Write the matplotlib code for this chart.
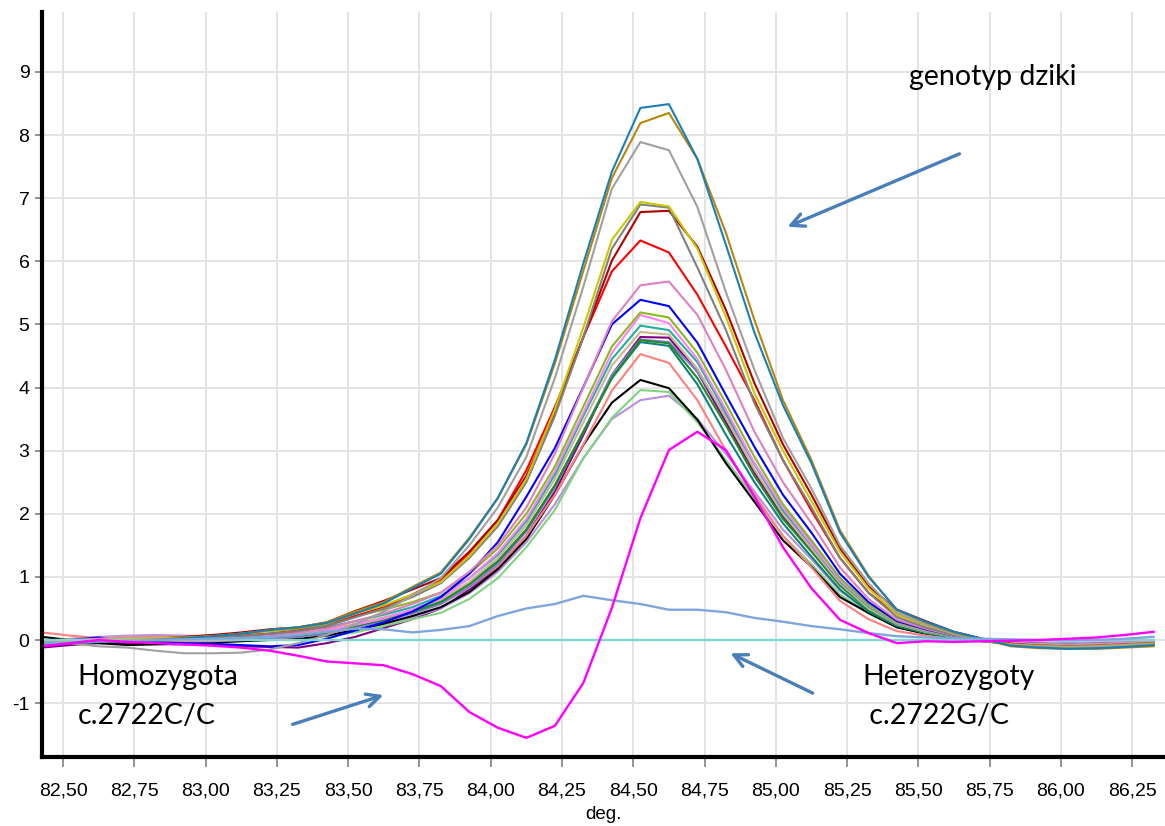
import numpy as np
import matplotlib.pyplot as plt

# temperatura (co 0.1 stopnia)
temps = np.round(82.425 + 0.1 * np.arange(40), 3)

# krzywe roznicowe topnienia - kolejne probki
c_teal = [-0.08, -0.05, -0.03, -0.02, 0.00, 0.03, 0.06, 0.10, 0.16, 0.20, 0.27, 0.42, 0.58, 0.82, 1.05, 1.60, 2.25, 3.12, 4.44, 5.97,
          7.42, 8.43, 8.49, 7.62, 6.26, 4.87, 3.72, 2.80, 1.70, 1.00, 0.48, 0.29, 0.13, 0.02, -0.09, -0.12, -0.14, -0.13, -0.11, -0.08]
c_brown = [-0.06, -0.05, -0.03, -0.01, 0.01, 0.03, 0.06, 0.10, 0.16, 0.20, 0.28, 0.45, 0.60, 0.84, 1.07, 1.62, 2.25, 3.10, 4.38, 5.85,
           7.32, 8.19, 8.35, 7.62, 6.45, 5.07, 3.80, 2.85, 1.74, 1.02, 0.47, 0.28, 0.12, 0.01, -0.10, -0.13, -0.14, -0.14, -0.12, -0.10]
c_gray = [-0.02, -0.05, -0.10, -0.12, -0.17, -0.21, -0.21, -0.20, -0.15, -0.05, 0.08, 0.25, 0.45, 0.70, 0.98, 1.50, 2.10, 2.90, 4.15, 5.60,
          7.15, 7.89, 7.76, 6.86, 5.51, 4.28, 3.20, 2.40, 1.50, 0.90, 0.43, 0.25, 0.10, 0.00, -0.08, -0.11, -0.12, -0.11, -0.09, -0.07]
c_yellow = [-0.03, -0.02, 0.00, 0.02, 0.03, 0.04, 0.06, 0.10, 0.15, 0.20, 0.27, 0.42, 0.55, 0.72, 0.92, 1.33, 1.85, 2.55, 3.65, 4.95,
            6.34, 6.94, 6.87, 6.20, 5.12, 3.91, 3.00, 2.20, 1.40, 0.82, 0.40, 0.24, 0.10, 0.00, -0.07, -0.10, -0.11, -0.10, -0.08, -0.06]
c_gray2 = [-0.04, -0.03, -0.02, -0.01, 0.00, 0.01, 0.03, 0.06, 0.10, 0.14, 0.22, 0.36, 0.50, 0.68, 0.90, 1.30, 1.80, 2.50, 3.55, 4.80,
           6.20, 6.90, 6.85, 5.90, 4.91, 3.75, 2.85, 2.10, 1.30, 0.75, 0.36, 0.20, 0.08, -0.01, -0.07, -0.09, -0.10, -0.09, -0.07, -0.05]
c_darkred = [-0.02, -0.03, -0.02, 0.00, 0.02, 0.05, 0.08, 0.12, 0.17, 0.20, 0.28, 0.46, 0.62, 0.80, 0.98, 1.40, 1.90, 2.60, 3.60, 4.80,
             6.01, 6.78, 6.80, 6.23, 5.23, 4.07, 3.10, 2.30, 1.45, 0.85, 0.48, 0.30, 0.13, 0.02, -0.08, -0.11, -0.12, -0.12, -0.10, -0.08]
c_red = [-0.05, -0.04, -0.03, -0.02, 0.00, 0.02, 0.04, 0.07, 0.10, 0.15, 0.22, 0.38, 0.52, 0.72, 0.95, 1.38, 1.90, 2.69, 3.69, 4.80,
         5.84, 6.33, 6.14, 5.47, 4.65, 3.80, 2.85, 2.05, 1.30, 0.75, 0.40, 0.24, 0.10, 0.00, -0.06, -0.09, -0.10, -0.09, -0.07, -0.05]
c_pink = [-0.02, 0.00, 0.02, 0.04, 0.05, 0.06, 0.07, 0.08, 0.08, 0.12, 0.18, 0.30, 0.42, 0.57, 0.75, 1.08, 1.50, 2.10, 2.95, 4.00,
          5.05, 5.62, 5.68, 5.15, 4.28, 3.30, 2.50, 1.85, 1.15, 0.65, 0.32, 0.18, 0.07, -0.01, -0.06, -0.08, -0.09, -0.08, -0.06, -0.04]
c_blue = [-0.05, 0.00, 0.04, -0.03, -0.04, -0.05, -0.06, -0.08, -0.10, -0.08, 0.02, 0.15, 0.28, 0.45, 0.68, 1.05, 1.55, 2.27, 3.04, 4.01,
          5.00, 5.39, 5.29, 4.71, 3.88, 3.06, 2.30, 1.70, 1.05, 0.60, 0.30, 0.17, 0.07, 0.00, -0.06, -0.09, -0.10, -0.09, -0.07, -0.05]
c_olive = [-0.03, -0.02, -0.01, 0.01, 0.03, 0.05, 0.07, 0.10, 0.14, 0.18, 0.25, 0.38, 0.48, 0.60, 0.75, 1.05, 1.45, 2.00, 2.75, 3.70,
           4.65, 5.19, 5.11, 4.55, 3.75, 2.90, 2.15, 1.58, 0.98, 0.56, 0.28, 0.16, 0.06, -0.01, -0.06, -0.08, -0.09, -0.08, -0.06, -0.04]
c_violet = [-0.05, -0.03, -0.01, 0.00, 0.01, 0.02, 0.02, 0.03, 0.05, 0.08, 0.14, 0.24, 0.34, 0.48, 0.66, 0.98, 1.38, 1.92, 2.68, 3.60,
            4.55, 5.15, 5.02, 4.45, 3.65, 2.80, 2.10, 1.52, 0.95, 0.55, 0.27, 0.15, 0.06, -0.01, -0.05, -0.07, -0.08, -0.07, -0.05, -0.03]
c_teal2 = [-0.06, -0.04, -0.02, 0.00, 0.02, 0.04, 0.05, 0.07, 0.10, 0.14, 0.20, 0.30, 0.40, 0.52, 0.70, 0.98, 1.35, 1.88, 2.62, 3.55,
           4.45, 4.98, 4.91, 4.40, 3.60, 2.78, 2.05, 1.50, 0.93, 0.53, 0.26, 0.14, 0.05, -0.02, -0.06, -0.08, -0.09, -0.08, -0.07, -0.05]
c_tan = [-0.01, 0.01, 0.03, 0.05, 0.05, 0.06, 0.07, 0.08, 0.08, 0.10, 0.16, 0.26, 0.36, 0.48, 0.64, 0.92, 1.30, 1.82, 2.55, 3.45,
         4.35, 4.88, 4.84, 4.30, 3.52, 2.70, 2.00, 1.45, 0.90, 0.50, 0.25, 0.13, 0.05, -0.01, -0.05, -0.07, -0.08, -0.07, -0.05, -0.03]
c_purple = [-0.12, -0.08, -0.05, -0.05, -0.06, -0.07, -0.08, -0.10, -0.11, -0.12, -0.05, 0.05, 0.19, 0.33, 0.50, 0.80, 1.15, 1.65, 2.35, 3.25,
            4.20, 4.80, 4.79, 4.25, 3.45, 2.65, 1.95, 1.42, 0.88, 0.50, 0.25, 0.13, 0.05, -0.01, -0.05, -0.07, -0.08, -0.07, -0.06, -0.04]
c_green = [-0.02, -0.03, -0.02, -0.01, 0.00, 0.02, 0.03, 0.04, 0.05, 0.07, 0.12, 0.22, 0.32, 0.44, 0.60, 0.88, 1.24, 1.75, 2.45, 3.30,
           4.15, 4.75, 4.70, 4.15, 3.40, 2.60, 1.92, 1.40, 0.86, 0.48, 0.24, 0.12, 0.04, -0.02, -0.06, -0.08, -0.09, -0.08, -0.06, -0.04]
c_darkteal = [-0.08, -0.04, -0.03, -0.02, -0.01, 0.00, 0.01, 0.03, 0.05, 0.08, 0.14, 0.24, 0.34, 0.46, 0.62, 0.90, 1.25, 1.75, 2.45, 3.30,
              4.15, 4.72, 4.66, 4.05, 3.25, 2.50, 1.85, 1.32, 0.80, 0.45, 0.22, 0.11, 0.04, -0.02, -0.06, -0.08, -0.09, -0.09, -0.07, -0.05]
c_slate = [-0.04, -0.03, -0.02, -0.01, 0.00, 0.01, 0.02, 0.02, 0.03, 0.05, 0.10, 0.20, 0.30, 0.42, 0.57, 0.84, 1.20, 1.72, 2.42, 3.30,
           4.20, 4.76, 4.72, 4.25, 3.55, 2.80, 2.10, 1.55, 0.98, 0.56, 0.28, 0.15, 0.06, 0.00, -0.04, -0.06, -0.07, -0.06, -0.05, -0.03]
c_salmon = [0.12, 0.07, 0.03, 0.00, -0.02, -0.03, -0.02, 0.00, 0.02, 0.05, 0.10, 0.20, 0.30, 0.42, 0.57, 0.83, 1.17, 1.65, 2.30, 3.10,
            3.95, 4.53, 4.39, 3.80, 3.00, 2.30, 1.65, 1.15, 0.62, 0.33, 0.14, 0.07, 0.02, -0.02, -0.05, -0.06, -0.07, -0.06, -0.05, -0.03]
c_black = [0.05, 0.00, -0.05, -0.08, -0.07, -0.06, -0.04, -0.02, 0.00, 0.02, 0.07, 0.16, 0.26, 0.38, 0.52, 0.76, 1.12, 1.60, 2.30, 3.09,
           3.76, 4.12, 3.99, 3.49, 2.80, 2.19, 1.58, 1.16, 0.68, 0.43, 0.20, 0.10, 0.03, -0.01, -0.04, -0.06, -0.07, -0.06, -0.05, -0.03]
c_lightgreen = [-0.05, -0.04, -0.03, -0.02, -0.02, -0.02, -0.02, -0.01, 0.00, 0.02, 0.06, 0.12, 0.22, 0.33, 0.43, 0.65, 0.98, 1.47, 2.06, 2.88,
                3.52, 3.96, 3.93, 3.45, 2.85, 2.25, 1.65, 1.20, 0.72, 0.42, 0.20, 0.10, 0.03, -0.01, -0.04, -0.05, -0.06, -0.06, -0.05, -0.03]
c_lavender = [-0.02, 0.02, 0.05, 0.07, 0.08, 0.07, 0.05, 0.03, 0.02, 0.04, 0.08, 0.16, 0.25, 0.36, 0.50, 0.74, 1.08, 1.55, 2.15, 2.88,
              3.50, 3.80, 3.87, 3.50, 2.95, 2.35, 1.75, 1.28, 0.78, 0.45, 0.22, 0.11, 0.04, 0.00, -0.03, -0.04, -0.05, -0.04, -0.03, -0.01]

# homozygota c.2722C/C
c_magenta = [-0.10, -0.05, 0.00, -0.03, -0.05, -0.07, -0.09, -0.12, -0.17, -0.25, -0.34, -0.37, -0.40, -0.54, -0.73, -1.14, -1.39, -1.55, -1.36, -0.68,
             0.51, 1.93, 3.01, 3.30, 3.01, 2.27, 1.47, 0.82, 0.32, 0.11, -0.05, -0.02, -0.03, -0.02, -0.01, 0.00, 0.02, 0.04, 0.08, 0.13]
# heterozygoty c.2722G/C
c_cornflower = [-0.06, -0.04, -0.02, -0.01, 0.00, 0.01, 0.02, 0.03, 0.05, 0.08, 0.13, 0.18, 0.17, 0.12, 0.16, 0.22, 0.38, 0.50, 0.57, 0.70,
                0.63, 0.57, 0.48, 0.48, 0.44, 0.35, 0.29, 0.22, 0.17, 0.11, 0.06, 0.04, 0.03, 0.02, 0.01, 0.00, -0.01, 0.00, 0.02, 0.05]
# krzywa referencyjna
c_ref = [0.0] * 40

curves = [
    (c_purple, '#800080'), (c_lavender, '#b98fe0'), (c_lightgreen, '#7fd47f'), (c_black, '#000000'),
    (c_salmon, '#ff7f7f'), (c_slate, '#8080e0'), (c_darkteal, '#0f8080'), (c_green, '#228b22'),
    (c_tan, '#d2b48c'), (c_teal2, '#1fb0a0'), (c_violet, '#ff80ff'), (c_olive, '#8db81e'),
    (c_blue, '#0000ff'), (c_pink, '#e07fc0'), (c_red, '#ff0000'), (c_darkred, '#b00000'),
    (c_gray2, '#808080'), (c_yellow, '#c8c800'), (c_gray, '#a0a0a0'), (c_brown, '#b8860b'),
    (c_teal, '#1a7fb5'),
]

fig = plt.figure(figsize=(11.65, 8.26), dpi=100)
ax = fig.add_axes([0.036, 0.0835, 0.964, 0.902])

for vals, col in curves:
    ax.plot(temps, vals, color=col, lw=1.5)
ax.plot(temps, c_ref, color='#7fd8cf', lw=1.7)
ax.plot(temps, c_cornflower, color='#7fa6dc', lw=1.7)
ax.plot(temps, c_magenta, color='#ff00ff', lw=1.7)

ax.set_xlim(82.426, 86.365)
ax.set_ylim(-1.854, 9.95)
xt = [82.5 + 0.25 * i for i in range(16)]
ax.set_xticks(xt)
ax.set_xticklabels([('%.2f' % t).replace('.', ',') for t in xt], fontsize=14, family='Liberation Sans')
ax.set_yticks(range(-1, 10))
ax.set_yticklabels([str(i) for i in range(-1, 10)], fontsize=14, family='Liberation Sans')
ax.grid(True, color='#e3e3e3', lw=1.4)
ax.set_axisbelow(True)
ax.tick_params(axis='x', color='#808080', length=7, width=1.2, pad=11)
ax.tick_params(axis='y', color='#808080', length=5, width=1.2, pad=4)
for s in ['top', 'right']:
    ax.spines[s].set_visible(False)
for s in ['left', 'bottom']:
    ax.spines[s].set_linewidth(3)
ax.set_xlabel('deg.', fontsize=13.5, family='Liberation Sans', labelpad=5)

# opisy i strzalki
txt = dict(fontsize=20.5, family='Lato', color='black')
ax.text(85.467, 8.92, 'genotyp dziki', ha='left', va='center', **txt)
ax.text(82.55, -0.58, 'Homozygota', ha='left', va='center', **txt)
ax.text(82.55, -1.2, 'c.2722C/C', ha='left', va='center', **txt)
ax.text(85.303, -0.58, 'Heterozygoty', ha='left', va='center', **txt)
ax.text(85.303, -1.2, ' c.2722G/C', ha='left', va='center', **txt)

arr = dict(arrowstyle='->,head_length=0.95,head_width=0.47', color='#4a7ebb', lw=2.4)
ax.annotate('', xy=(85.032, 6.53), xytext=(85.653, 7.72), arrowprops=arr)
ax.annotate('', xy=(83.633, -0.86), xytext=(83.296, -1.35), arrowprops=arr)
ax.annotate('', xy=(84.832, -0.19), xytext=(85.138, -0.86), arrowprops=arr)

fig.savefig('out.png', dpi=100)
